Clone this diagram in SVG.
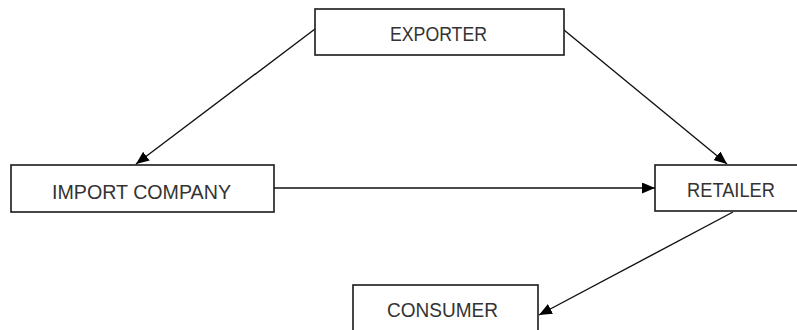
<svg xmlns="http://www.w3.org/2000/svg" width="797" height="330" viewBox="0 0 797 330">
<style>
.box{fill:#fff;stroke:#1a1a1a;stroke-width:1.6}
.lbl{font-family:"Liberation Sans",Arial,sans-serif;font-size:20px;fill:#333;text-anchor:middle}
.edge{stroke:#111;stroke-width:1.4;fill:none;marker-end:url(#ah)}
</style>
<defs>
<marker id="ah" viewBox="0 0 13 11" refX="13" refY="5.5" markerWidth="13" markerHeight="11" markerUnits="userSpaceOnUse" orient="auto">
<path d="M0,0 L13,5.5 L0,11 z" fill="#000"/>
</marker>
</defs>
<rect width="797" height="330" fill="#fff"/>
<g id="connectors">
<line class="edge" x1="315" y1="29" x2="136" y2="164"/>
<line class="edge" x1="564" y1="30" x2="727" y2="164"/>
<line class="edge" x1="274" y1="188" x2="655" y2="188"/>
<line class="edge" x1="733" y1="212" x2="539" y2="315"/>
</g>
<g id="exporter">
<rect class="box" x="315" y="9" width="249" height="46"/>
<text class="lbl" x="438.5" y="41" textLength="97" lengthAdjust="spacingAndGlyphs">EXPORTER</text>
</g>
<g id="import-company">
<rect class="box" x="11" y="165" width="263" height="47"/>
<text class="lbl" x="141.5" y="199" textLength="179" lengthAdjust="spacingAndGlyphs">IMPORT COMPANY</text>
</g>
<g id="retailer">
<rect class="box" x="655" y="165" width="150" height="46"/>
<text class="lbl" x="731" y="197" textLength="88" lengthAdjust="spacingAndGlyphs">RETAILER</text>
</g>
<g id="consumer">
<rect class="box" x="353" y="285" width="185" height="50"/>
<text class="lbl" x="442.5" y="317" textLength="111" lengthAdjust="spacingAndGlyphs">CONSUMER</text>
</g>
</svg>
